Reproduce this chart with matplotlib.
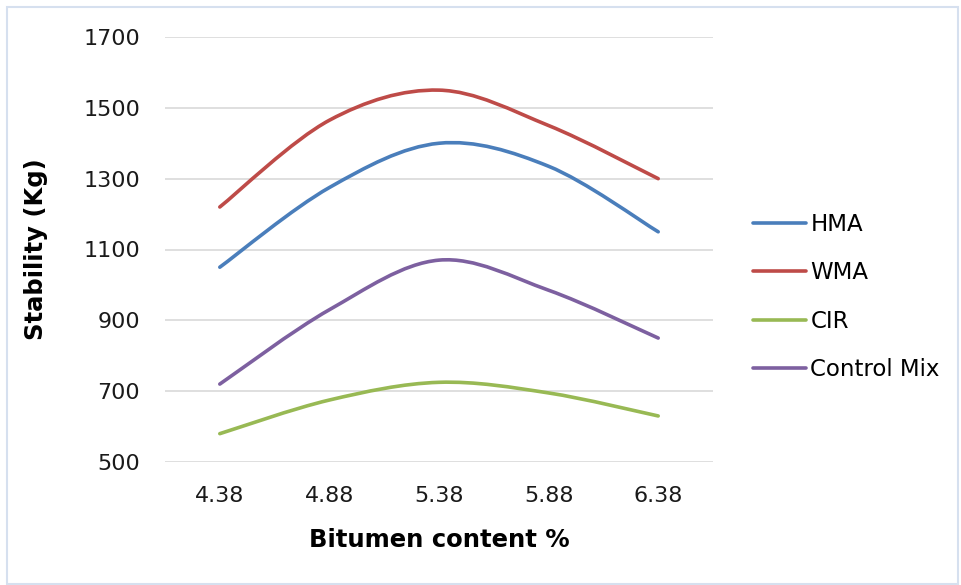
import matplotlib
matplotlib.use("Agg")
import matplotlib.pyplot as plt
from matplotlib.path import Path
from matplotlib.patches import PathPatch, Rectangle
from matplotlib.lines import Line2D
import numpy as np

'''
Stability vs bitumen content for the four mixes (Excel style smoothed lines)
'''

bitumen = ["4.38", "4.88", "5.38", "5.88", "6.38"]
hma = [1050, 1275, 1400, 1335, 1150]
wma = [1220, 1465, 1550, 1450, 1300]
cir = [580, 675, 725, 695, 630]
control_mix = [720, 930, 1070, 985, 850]

series = [
    ("HMA", hma, "#4a7ebb"),
    ("WMA", wma, "#be4b48"),
    ("CIR", cir, "#98b954"),
    ("Control Mix", control_mix, "#7d60a0"),
]

plt.rcParams['font.family'] = ['DejaVu Sans']


def smooth_path(xs, ys):
    # Bezier path through the points, like Excel's "smoothed line"
    pts = np.column_stack([xs, ys]).astype(float)
    n = len(pts)
    verts = [pts[0]]
    codes = [Path.MOVETO]
    for i in range(n - 1):
        p0 = pts[i - 1] if i > 0 else pts[i]
        p1 = pts[i]
        p2 = pts[i + 1]
        p3 = pts[i + 2] if i + 2 < n else pts[i + 1]
        c1 = p1 + (p2 - p0) / 6.0
        c2 = p2 - (p3 - p1) / 6.0
        verts += [c1, c2, p2]
        codes += [Path.CURVE4] * 3
    return Path(verts, codes)


fig = plt.figure(figsize=(9.61, 5.85), dpi=100)
ax = fig.add_axes([165 / 961, 1 - 462 / 585, 548 / 961, 425 / 585])

x = np.arange(len(bitumen))
handles = []
for name, vals, col in series:
    patch = PathPatch(smooth_path(x, vals), facecolor="none", edgecolor=col,
                      lw=2.6, capstyle="round", joinstyle="round", zorder=3)
    ax.add_patch(patch)
    handles.append(Line2D([], [], color=col, lw=2.6, solid_capstyle="round", label=name))

ax.set_xlim(-0.5, len(bitumen) - 0.5)
ax.set_ylim(500, 1700)
ax.set_yticks(range(500, 1701, 200))
ax.set_xticks(x)
ax.set_xticklabels(bitumen)
ax.tick_params(length=0, labelsize=16, colors="#1a1a1a")
ax.tick_params(axis="y", pad=18)
ax.tick_params(axis="x", pad=17)
ax.grid(axis="y", color="#d9d9d9", lw=1.2)
ax.set_axisbelow(True)
for s in ax.spines.values():
    s.set_visible(False)

ax.set_xlabel("Bitumen content %", fontsize=17.5, fontweight="bold", labelpad=16)
ax.set_ylabel("Stability (Kg)", fontsize=17.5, fontweight="bold", labelpad=25)

fig.legend(handles=handles, loc="center left", bbox_to_anchor=(744 / 961, 1 - 297 / 585),
           frameon=False, fontsize=16.5, handlelength=2.3, handletextpad=0.2,
           labelspacing=1.1, borderaxespad=0)

fig.patches.append(Rectangle((7 / 961, 1 / 585), 951 / 961, 577 / 585,
                             transform=fig.transFigure, fill=False,
                             edgecolor="#d6e0ef", lw=1.5))

fig.savefig("out.png", dpi=100)
